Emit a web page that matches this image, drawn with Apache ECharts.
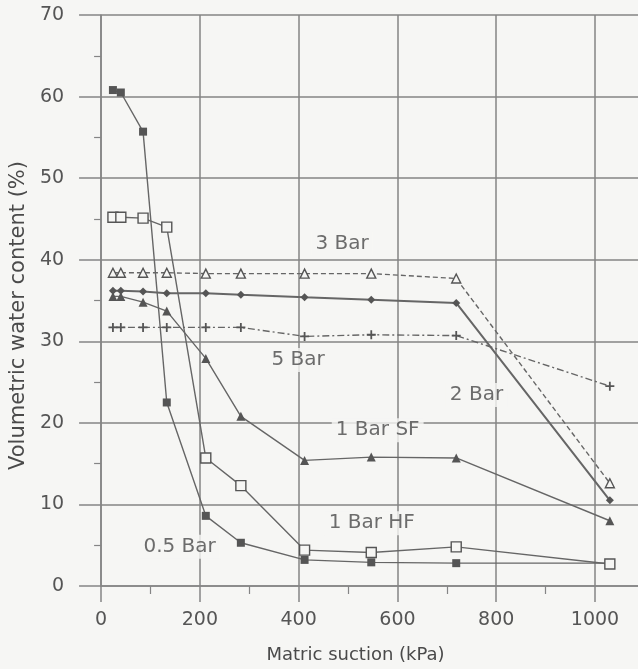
<!DOCTYPE html>
<html>
<head>
<meta charset="utf-8">
<script src="https://cdn.jsdelivr.net/npm/echarts@6/dist/echarts.min.js"></script>
<style>
  html, body { margin: 0; padding: 0; background: #f6f6f4; }
  #chart { width: 638px; height: 669px; }
</style>
</head>
<body>
<div id="chart"></div>
<script>
// matric suction (kPa) where each sample was read
const suction = [24, 40, 85, 133, 212, 283, 412, 547, 719, 1030];

// volumetric water content (%) per curve
const bar05 = [60.8, 60.5, 55.7, 22.5, 8.6, 5.3, 3.2, 2.9, 2.8, 2.8];
const bar1HF = [45.2, 45.2, 45.1, 44.0, 15.7, 12.3, 4.4, 4.1, 4.8, 2.7];
const bar1SF = [35.5, 35.5, 34.8, 33.7, 27.9, 20.8, 15.4, 15.8, 15.7, 8.0];
const bar2 = [36.2, 36.2, 36.1, 35.9, 35.9, 35.7, 35.4, 35.1, 34.7, 10.5];
const bar3 = [38.4, 38.4, 38.4, 38.4, 38.3, 38.3, 38.3, 38.3, 37.7, 12.6];
const bar5 = [31.7, 31.7, 31.7, 31.7, 31.7, 31.7, 30.6, 30.8, 30.7, 24.5];

// curve labels written inside the plot
const labelText = ["3 Bar", "5 Bar", "2 Bar", "1 Bar SF", "1 Bar HF", "0.5 Bar"];
const labelX = [488, 399, 760, 560, 548, 159];
const labelY = [42.0, 27.7, 23.4, 19.1, 7.7, 4.8];

const xTicks = [0, 200, 400, 600, 800, 1000];

const bg = "#f6f6f4";
const grid = "#858585";
const font = "DejaVu Sans";

const pts = (vals) => suction.map((s, i) => [s, vals[i]]);
const plus = "path://M4,0L6,0L6,4L10,4L10,6L6,6L6,10L4,10L4,6L0,6L0,4L4,4Z";

function curve(name, vals, symbol, size, filled, type, width) {
  return {
    name: name,
    type: "line",
    data: pts(vals),
    symbol: symbol,
    symbolSize: size,
    showSymbol: true,
    lineStyle: { color: "#666", width: width || 1.4, type: type || "solid" },
    itemStyle: filled
      ? { color: "#555" }
      : { color: bg, borderColor: "#555", borderWidth: 1.4 },
    z: 3,
  };
}

const chart = echarts.init(document.getElementById("chart"));
chart.setOption({
  backgroundColor: bg,
  animation: false,
  textStyle: { fontFamily: font },
  grid: { left: 100, right: 0, top: 15, bottom: 83 },
  xAxis: {
    type: "value",
    min: 0,
    max: 1087,
    interval: 200,
    name: "Matric suction (kPa)",
    nameLocation: "middle",
    nameGap: 60,
    nameTextStyle: { fontSize: 18, color: "#4a4a4a", fontFamily: font, padding: [0, 28, 0, 0] },
    axisLine: { show: true, onZero: false, lineStyle: { color: grid, width: 1.5 } },
    axisTick: { show: true, length: 16, customValues: xTicks, lineStyle: { color: grid, width: 1.5 } },
    minorTick: { show: true, splitNumber: 2, length: 8, lineStyle: { color: grid, width: 1.2 } },
    axisLabel: {
      customValues: xTicks,
      margin: 25,
      fontSize: 19,
      color: "#555",
      fontFamily: font,
      formatter: (v) => String(v),
    },
    splitLine: { show: true, lineStyle: { color: grid, width: 1.5 } },
  },
  yAxis: {
    type: "value",
    min: 0,
    max: 70,
    interval: 10,
    name: "Volumetric water content (%)",
    nameLocation: "middle",
    nameGap: 71,
    nameTextStyle: { fontSize: 21, color: "#4a4a4a", fontFamily: font, padding: [0, 30, 0, 0] },
    axisLine: { show: true, lineStyle: { color: grid, width: 1.5 } },
    axisTick: { show: true, length: 22, lineStyle: { color: grid, width: 1.5 } },
    minorTick: { show: true, splitNumber: 2, length: 7, lineStyle: { color: grid, width: 1.2 } },
    axisLabel: { margin: 37, fontSize: 19, color: "#555", fontFamily: font },
    splitLine: { show: true, lineStyle: { color: grid, width: 1.5 } },
  },
  series: [
    curve("0.5 Bar", bar05, "rect", 8, true),
    curve("1 Bar HF", bar1HF, "rect", 10, false),
    curve("1 Bar SF", bar1SF, "triangle", 9, true),
    curve("2 Bar", bar2, "diamond", 8, true, "solid", 2),
    curve("3 Bar", bar3, "triangle", 9, false, [5, 3]),
    curve("5 Bar", bar5, plus, 9, true, [7, 3, 2, 3]),
    {
      name: "labels",
      type: "scatter",
      data: labelText.map((t, i) => ({ name: t, value: [labelX[i], labelY[i]] })),
      symbolSize: 1,
      itemStyle: { color: "transparent" },
      label: {
        show: true,
        position: "inside",
        formatter: (p) => p.name,
        fontSize: 20,
        color: "#4a4a4a",
        fontFamily: font,
        backgroundColor: bg,
        padding: [2, 4],
      },
      z: 2,
    },
  ],
});
</script>
</body>
</html>
